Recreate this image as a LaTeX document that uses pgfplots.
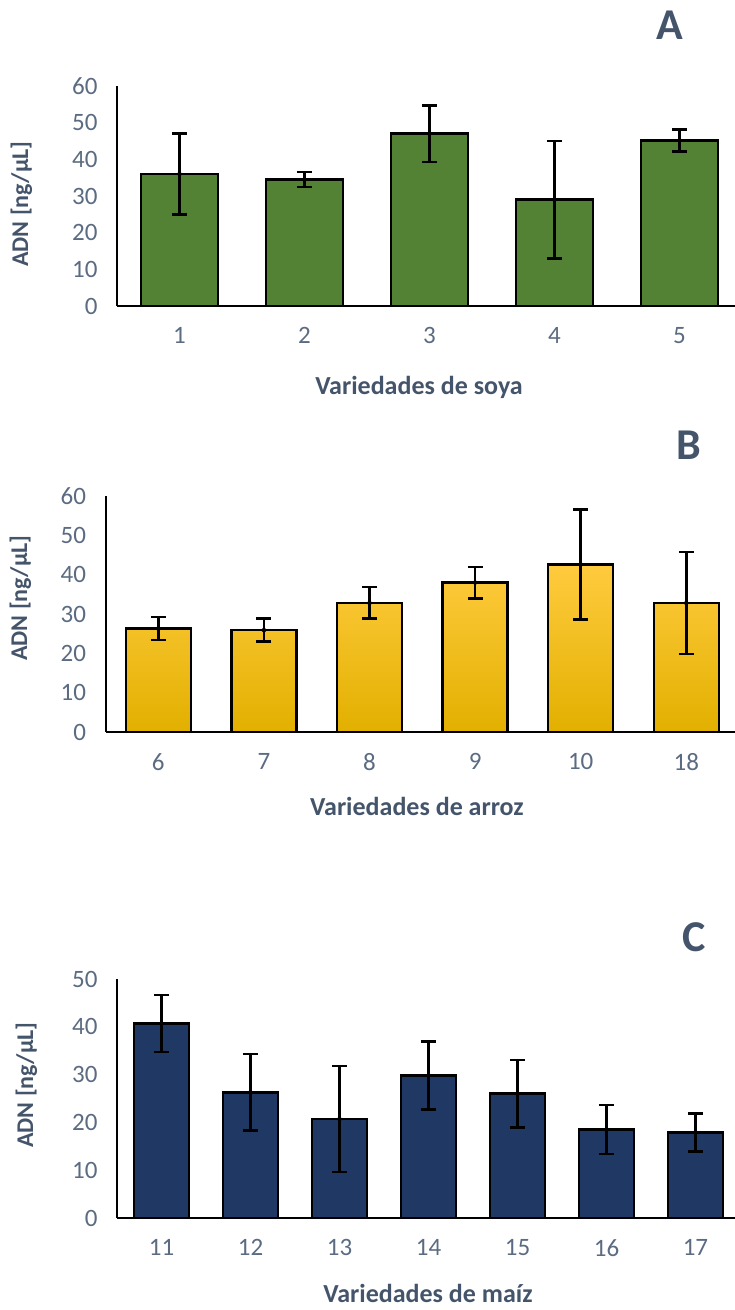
\documentclass[border=0pt]{standalone}
\usepackage{fontspec}
\setmainfont{Carlito}
\usepackage{pgfplots}
\pgfplotsset{compat=1.18}

\definecolor{soyagreen}{HTML}{548235}
\definecolor{maizblue}{HTML}{203864}
\definecolor{ricetop}{HTML}{FFCB3E}
\definecolor{ricemid}{HTML}{FFC400}
\definecolor{ricebot}{HTML}{E2B000}
\definecolor{ticktext}{HTML}{5B6B82}
\definecolor{titletext}{HTML}{44546A}

\pgfplotsset{
  panel/.style={
    scale only axis,
    axis x line*=bottom,
    axis y line*=left,
    axis line style={black, line width=2pt},
    major tick length=0pt,
    ymin=0,
    xmin=0.5,
    clip=false,
    tick label style={font=\fontsize{25}{29}\selectfont, text=ticktext},
    /pgf/number format/assume math mode=true,
    yticklabel style={xshift=-16pt},
    xticklabel style={yshift=-18pt},
  },
  barstyle/.style={ybar, bar shift=0pt, bar width=0.615, draw=black, line width=2.5pt},
  errstyle/.style={only marks, mark=none, forget plot,
    error bars/.cd, y dir=both, y explicit,
    error bar style={draw=black, line width=2.5pt},
    error mark options={rotate=90, mark size=7.5pt, line width=2.5pt, draw=black}},
}

\pgfplotstableread{
x  y     e
1  36.0  11.1
2  34.5  2.0
3  47.0  7.7
4  29.0  16.0
5  45.1  3.0
}\soya

\pgfplotstableread{
x  y     e
1  26.3  2.9
2  25.9  2.9
3  32.8  4.0
4  38.0  4.0
5  42.6  14.0
6  32.8  13.0
}\arroz

\pgfplotstableread{
x  y     e
1  40.7  6.0
2  26.3  8.0
3  20.7  11.1
4  29.8  7.1
5  26.0  7.1
6  18.5  5.1
7  17.9  4.0
}\maiz

\begin{document}
\begin{tikzpicture}
\path[use as bounding box] (0pt,0pt) rectangle (735pt,1310pt);

% A: soya
\begin{axis}[panel, at={(117pt,1004pt)}, anchor=south west,
  width=618pt, height=220pt, xmax=5.444, ymax=60,
  ytick={0,10,...,60}, xtick={1,...,5}, xticklabels={1,2,3,4,5}]
  \addplot[barstyle, fill=soyagreen] table[x=x, y=y] {\soya};
  \addplot[errstyle] table[x=x, y=y, y error=e] {\soya};
\end{axis}

% B: arroz
\begin{axis}[panel, at={(105.5pt,578pt)}, anchor=south west,
  width=629.5pt, height=236pt, xmax=6.461, ymax=60,
  ytick={0,10,...,60}, xtick={1,...,6}, xticklabels={6,7,8,9,10,18}]
  \addplot[barstyle, top color=ricetop, middle color=ricemid, bottom color=ricebot] table[x=x, y=y] {\arroz};
  \addplot[errstyle] table[x=x, y=y, y error=e] {\arroz};
\end{axis}

% C: maiz
\begin{axis}[panel, at={(117pt,92pt)}, anchor=south west,
  width=618pt, height=239pt, xmax=7.444, ymax=50,
  ytick={0,10,...,50}, xtick={1,...,7}, xticklabels={11,12,13,14,15,16,17}]
  \addplot[barstyle, fill=maizblue] table[x=x, y=y] {\maiz};
  \addplot[errstyle] table[x=x, y=y, y error=e] {\maiz};
\end{axis}

% panel letters
\node[anchor=base, text=titletext, font=\bfseries\fontsize{44}{50}\selectfont] at (670pt,1270pt) {A};
\node[anchor=base, text=titletext, font=\bfseries\fontsize{44}{50}\selectfont] at (689pt,850pt) {B};
\node[anchor=base, text=titletext, font=\bfseries\fontsize{44}{50}\selectfont] at (694pt,358pt) {C};

% axis titles
\node[anchor=base, text=titletext, font=\bfseries\fontsize{26}{30}\selectfont] at (419pt,915pt) {Variedades de soya};
\node[anchor=base, text=titletext, font=\bfseries\fontsize{26}{30}\selectfont] at (417pt,494pt) {Variedades de arroz};
\node[anchor=base, text=titletext, font=\bfseries\fontsize{26}{30}\selectfont] at (428pt,7pt) {Variedades de maíz};

\node[rotate=90, anchor=base, text=titletext, font=\bfseries\fontsize{24}{28}\selectfont] at (28pt,1106pt) {ADN [ng/µL]};
\node[rotate=90, anchor=base, text=titletext, font=\bfseries\fontsize{24}{28}\selectfont] at (27pt,712pt) {ADN [ng/µL]};
\node[rotate=90, anchor=base, text=titletext, font=\bfseries\fontsize{24}{28}\selectfont] at (33pt,225pt) {ADN [ng/µL]};
\end{tikzpicture}
\end{document}
